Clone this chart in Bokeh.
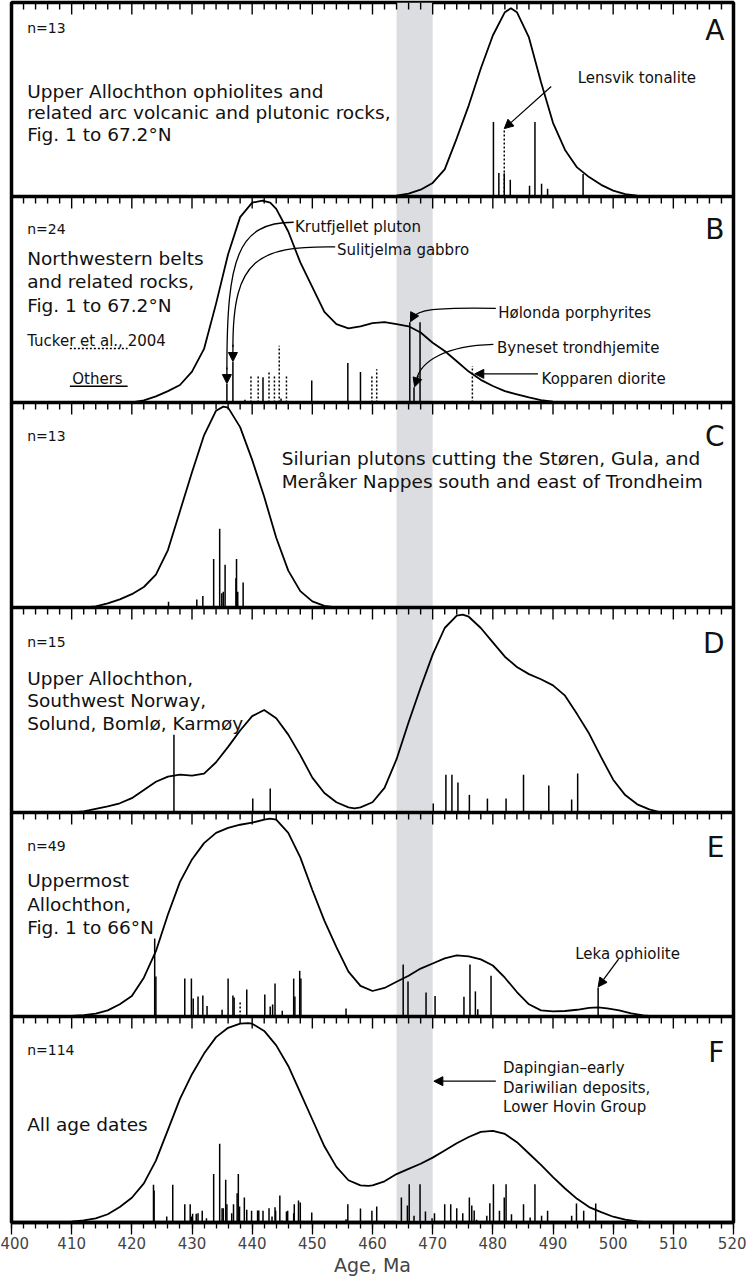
from bokeh.plotting import figure
from bokeh.models import (Range1d, SingleIntervalTicker, BoxAnnotation, Span,
                          Label, Arrow, NormalHead)
from bokeh.embed import file_html
from bokeh.resources import INLINE

FONT = "DejaVu Sans"
X_MIN, X_MAX = 400, 520
BAND_LEFT, BAND_RIGHT = 464, 470
MAJOR_TICKS = list(range(400, 521, 10))
MINOR_TICKS = [t for t in range(402, 520, 2) if t % 10 != 0]

# ---------------- Panel A ----------------
a_curve_x = [462, 464, 466, 468, 470, 472, 474, 476, 478, 480, 482, 483, 484, 486, 488, 490,
             492, 494, 496, 498, 500, 502, 504, 506]
a_curve_y = [0.0, 0.005, 0.015, 0.035, 0.07, 0.14, 0.30, 0.47, 0.66, 0.83, 0.95, 0.97, 0.95,
             0.82, 0.59, 0.38, 0.24, 0.15, 0.10, 0.06, 0.03, 0.012, 0.005, 0.0]
a_bar_x = [480.1, 481.0, 481.9, 482.9, 486.1, 487.0, 488.1, 489.1, 495.0]
a_bar_h = [0.384, 0.121, 0.12, 0.086, 0.056, 0.384, 0.066, 0.04, 0.116]
a_dash_x = [481.9]
a_dash_h = [0.348]

# ---------------- Panel B ----------------
b_curve_x = [420, 422, 424, 426, 428, 430, 432, 434, 436, 438, 440, 441.7, 443, 444, 446, 448,
             450, 452, 454, 456, 458, 460, 462, 464, 466, 468, 470, 472, 474, 476, 478, 480,
             482, 484, 486, 488, 490, 492]
b_curve_y = [0.0, 0.01, 0.03, 0.055, 0.085, 0.15, 0.26, 0.48, 0.72, 0.90, 0.97, 0.98, 0.97,
             0.94, 0.83, 0.68, 0.56, 0.44, 0.38, 0.36, 0.37, 0.385, 0.39, 0.38, 0.37, 0.34,
             0.29, 0.25, 0.20, 0.15, 0.11, 0.08, 0.055, 0.04, 0.025, 0.012, 0.004, 0.0]
b_bar_x = [435.8, 436.8, 438.8, 441.8, 444.8, 449.9, 455.9, 458.0, 466.2, 466.9, 467.9]
b_bar_h = [0.09, 0.197, 0.013, 0.123, 0.02, 0.107, 0.192, 0.148, 0.389, 0.074, 0.389]
b_dash_x = [439.8, 441.0, 442.8, 443.7, 444.5, 445.7, 459.9, 460.7, 476.6]
b_dash_h = [0.128, 0.131, 0.151, 0.128, 0.276, 0.128, 0.128, 0.161, 0.177]

# ---------------- Panel C ----------------
c_curve_x = [412, 414, 416, 418, 420, 422, 424, 426, 428, 430, 432, 434, 435.2, 436, 438, 440,
             442, 444, 446, 448, 450, 452, 454]
c_curve_y = [0.0, 0.005, 0.02, 0.04, 0.065, 0.10, 0.16, 0.28, 0.47, 0.66, 0.84, 0.96, 0.98,
             0.975, 0.88, 0.72, 0.54, 0.34, 0.18, 0.08, 0.03, 0.008, 0.0]
c_bar_x = [426.1, 430.8, 431.8, 433.6, 434.6, 434.95, 435.2, 435.5, 437.3, 437.4, 437.6, 438.5]
c_bar_h = [0.028, 0.039, 0.056, 0.236, 0.384, 0.069, 0.077, 0.208, 0.143, 0.236, 0.077, 0.122]

# ---------------- Panel D ----------------
d_curve_x = [410, 412, 414, 416, 418, 420, 422, 424, 426, 428, 430, 432, 434, 436, 438, 440,
             442, 444, 446, 448, 450, 452, 454, 456, 457, 458, 460, 462, 464, 466, 468, 470,
             472, 474, 475, 476, 478, 480, 482, 484, 486, 488, 490, 492, 494, 496, 498, 500,
             502, 504, 506, 508]
d_curve_y = [0.0, 0.005, 0.018, 0.03, 0.045, 0.07, 0.11, 0.15, 0.175, 0.185, 0.18, 0.19,
             0.245, 0.32, 0.40, 0.47, 0.50, 0.46, 0.38, 0.28, 0.17, 0.095, 0.05, 0.025, 0.02,
             0.025, 0.05, 0.12, 0.26, 0.44, 0.61, 0.77, 0.90, 0.96, 0.965, 0.955, 0.90, 0.83,
             0.76, 0.71, 0.675, 0.65, 0.62, 0.57, 0.48, 0.385, 0.27, 0.16, 0.085, 0.04, 0.015,
             0.0]
d_bar_x = [427.0, 440.1, 443.0, 470.1, 472.2, 473.2, 474.2, 476.1, 479.1, 482.2, 485.1,
           489.3, 493.1, 494.1]
d_bar_h = [0.379, 0.068, 0.117, 0.044, 0.184, 0.184, 0.146, 0.086, 0.068, 0.068, 0.184,
           0.132, 0.063, 0.19]

# ---------------- Panel E ----------------
e_curve_x = [406, 410, 412, 414, 416, 418, 420, 422, 424, 426, 428, 430, 432, 434, 436, 438,
             440, 442, 443, 444, 446, 448, 450, 452, 454, 456, 458, 460, 462, 464, 466, 468,
             470, 472, 474, 476, 478, 480, 482, 484, 486, 488, 490, 492, 494, 496, 497.5, 499,
             501, 503, 505, 507]
e_curve_y = [0.0, 0.003, 0.007, 0.014, 0.03, 0.06, 0.10, 0.19, 0.32, 0.50, 0.66, 0.77, 0.85,
             0.90, 0.925, 0.94, 0.95, 0.965, 0.97, 0.965, 0.90, 0.78, 0.62, 0.47, 0.34, 0.22,
             0.15, 0.125, 0.14, 0.17, 0.20, 0.235, 0.26, 0.285, 0.30, 0.295, 0.28, 0.25, 0.19,
             0.12, 0.06, 0.03, 0.025, 0.027, 0.033, 0.042, 0.045, 0.04, 0.03, 0.015, 0.005, 0.0]
e_bar_x = [423.8, 424.0, 428.8, 429.9, 430.2, 431.0, 431.8, 432.5, 435.0, 436.0, 436.8, 437.0,
           439.1, 442.1, 443.0, 443.4, 443.8, 445.0, 446.9, 447.1, 447.9, 448.1, 455.6, 465.1,
           465.9, 468.9, 470.4, 475.2, 476.2, 477.1, 477.5, 479.7, 497.5]
e_bar_h = [0.382, 0.196, 0.186, 0.186, 0.088, 0.098, 0.103, 0.052, 0.033, 0.186, 0.103, 0.093,
           0.132, 0.108, 0.049, 0.059, 0.162, 0.028, 0.186, 0.098, 0.224, 0.186, 0.039, 0.255,
           0.172, 0.118, 0.101, 0.097, 0.255, 0.123, 0.036, 0.2, 0.142]
e_dash_x = [438.0]
e_dash_h = [0.069]

# ---------------- Panel F ----------------
f_curve_x = [406, 410, 412, 414, 416, 418, 420, 422, 424, 426, 428, 430, 432, 434, 436, 438,
             439.3, 440, 442, 444, 446, 448, 450, 452, 454, 456, 458, 459.3, 460, 462, 464, 466,
             468, 470, 472, 474, 476, 478, 480, 482, 484, 486, 488, 490, 492, 494, 496, 498,
             500, 502, 504, 506]
f_curve_y = [0.0, 0.004, 0.01, 0.02, 0.04, 0.075, 0.12, 0.19, 0.30, 0.45, 0.60, 0.72, 0.82,
             0.90, 0.945, 0.965, 0.968, 0.965, 0.93, 0.86, 0.76, 0.63, 0.50, 0.37, 0.27, 0.205,
             0.18, 0.178, 0.18, 0.20, 0.235, 0.26, 0.285, 0.315, 0.35, 0.385, 0.415, 0.44,
             0.445, 0.43, 0.39, 0.335, 0.28, 0.22, 0.165, 0.115, 0.075, 0.05, 0.028, 0.014,
             0.005, 0.0]
f_bar_x = [423.6, 423.7, 425.8, 426.8, 428.8, 429.7, 429.9, 430.1, 430.7, 431.0, 431.7, 432.4,
           433.6, 434.6, 435.0, 435.2, 435.6, 435.8, 436.6, 436.9, 437.5, 437.7, 437.9, 438.7,
           439.1, 439.9, 440.9, 441.1, 441.8, 442.8, 443.3, 443.8, 443.9, 444.6, 445.0, 445.7,
           445.9, 446.9, 447.0, 447.7, 448.0, 449.9, 455.6, 455.9, 458.0, 459.9, 460.7, 464.8,
           465.8, 466.1, 466.9, 467.9, 468.8, 469.9, 470.3, 472.0, 473.0, 474.0, 475.0, 476.1,
           476.5, 476.9, 477.3, 479.0, 479.5, 480.1, 481.1, 481.9, 482.2, 483.1, 485.1, 486.2,
           487.0, 488.1, 489.1, 493.1, 493.9, 495.1, 497.1]
f_bar_h = [0.183, 0.155, 0.029, 0.183, 0.089, 0.089, 0.029, 0.042, 0.042, 0.045, 0.057, 0.021,
           0.236, 0.382, 0.069, 0.069, 0.207, 0.089, 0.045, 0.089, 0.142, 0.236, 0.078, 0.121,
           0.062, 0.057, 0.058, 0.058, 0.057, 0.069, 0.029, 0.074, 0.057, 0.131, 0.01, 0.053,
           0.057, 0.045, 0.089, 0.107, 0.097, 0.049, 0.016, 0.089, 0.068, 0.057, 0.078, 0.121,
           0.083, 0.186, 0.033, 0.186, 0.053, 0.021, 0.045, 0.089, 0.089, 0.069, 0.045, 0.121,
           0.083, 0.058, 0.013, 0.033, 0.094, 0.186, 0.057, 0.121, 0.186, 0.04, 0.089, 0.024,
           0.186, 0.033, 0.057, 0.033, 0.092, 0.057, 0.092]

panel_letters = ["A", "B", "C", "D", "E", "F"]
panel_counts = ["n=13", "n=24", "n=13", "n=15", "n=49", "n=114"]

# ---------------- layout of the stacked panels (pixel units on the y axis) ------------
PANEL_BASE = {"A": 1026, "B": 820, "C": 615, "D": 410, "E": 206, "F": 0}
PANEL_H = {"A": 194, "B": 206, "C": 205, "D": 205, "E": 204, "F": 206}
TOTAL_H = 1220


def Y(k, f):
    return PANEL_BASE[k] + f * PANEL_H[k]


p = figure(frame_width=722, frame_height=TOTAL_H,
           x_range=Range1d(X_MIN, X_MAX), y_range=Range1d(0, TOTAL_H),
           output_backend="svg", toolbar_location=None,
           x_axis_location="below", y_axis_location=None,
           min_border_left=11, min_border_right=13, min_border_top=2, min_border_bottom=0,
           background_fill_color="white", border_fill_color="white")
p.grid.visible = False
p.outline_line_color = "black"
p.outline_line_width = 3.5

p.add_layout(BoxAnnotation(left=BAND_LEFT, right=BAND_RIGHT, fill_color="#dcdde0",
                           fill_alpha=1.0, line_alpha=0, level="underlay"))

# panel separators
for k in ["A", "B", "C", "D", "E"]:
    p.add_layout(Span(location=PANEL_BASE[k], dimension="width", line_color="black",
                      line_width=3.5))

# inward tick marks along the top edge of every panel
tx0, ty0, ty1 = [], [], []
for k in panel_letters:
    top = PANEL_BASE[k] + PANEL_H[k]
    for t in MAJOR_TICKS:
        tx0.append(t); ty0.append(top); ty1.append(top - 12)
    for t in MINOR_TICKS:
        tx0.append(t); ty0.append(top); ty1.append(top - 7)
p.segment(x0=tx0, y0=ty0, x1=tx0, y1=ty1, line_color="black", line_width=1.4)

# bottom axis
ax = p.xaxis[0]
ax.ticker = SingleIntervalTicker(interval=10, num_minor_ticks=5)
ax.major_tick_in = 0
ax.major_tick_out = 12
ax.minor_tick_in = 0
ax.minor_tick_out = 6
ax.major_tick_line_width = 1.3
ax.minor_tick_line_width = 1.3
ax.axis_line_width = 3.5
ax.major_label_text_font = FONT
ax.major_label_text_font_size = "15px"
ax.major_label_standoff = 2
ax.axis_label = "Age, Ma"
ax.axis_label_text_font = FONT
ax.axis_label_text_font_size = "19px"
ax.axis_label_text_font_style = "normal"
ax.axis_label_standoff = 2


def draw(k, cx, cy, bx, bh, dx=None, dh=None):
    base = PANEL_BASE[k]
    p.line(cx, [Y(k, v) for v in cy], line_color="black", line_width=1.8)
    p.segment(x0=bx, y0=[base] * len(bx), x1=bx, y1=[Y(k, v) for v in bh],
              line_color="black", line_width=1.5)
    if dx:
        p.segment(x0=dx, y0=[base] * len(dx), x1=dx, y1=[Y(k, v) for v in dh],
                  line_color="black", line_width=1.5, line_dash="2 2")


def lab(k, x, f, text, size, align="left"):
    p.add_layout(Label(x=x, y=Y(k, f), text=text, text_font=FONT, text_font_size=size,
                       text_align=align, text_baseline="alphabetic", text_color="#111111"))


def arrow(k, x0, f0, x1, f1):
    p.add_layout(Arrow(end=NormalHead(size=9, fill_color="black", line_color="black"),
                       x_start=x0, y_start=Y(k, f0), x_end=x1, y_end=Y(k, f1),
                       line_color="black", line_width=1.3))


DESC = "18.5px"
SMALL = "15px"
LETTER_Y = [0.854, 0.842, 0.833, 0.826, 0.828, 0.825]
COUNT_Y = [0.87, 0.842, 0.837, 0.834, 0.838, 0.835]
for i, k in enumerate(panel_letters):
    lab(k, 402.6, COUNT_Y[i], panel_counts[i], "14px")
    lab(k, 518.5, LETTER_Y[i], k, "28px", "right")

# ---- A
draw("A", a_curve_x, a_curve_y, a_bar_x, a_bar_h, a_dash_x, a_dash_h)
lab("A", 402.6, 0.542, "Upper Allochthon ophiolites and", DESC)
lab("A", 402.6, 0.432, "related arc volcanic and plutonic rocks,", DESC)
lab("A", 402.6, 0.319, "Fig. 1 to 67.2°N", DESC)
lab("A", 494.1, 0.61, "Lensvik tonalite", SMALL)
arrow("A", 489.7, 0.567, 481.9, 0.35)

# ---- B
draw("B", b_curve_x, b_curve_y, b_bar_x, b_bar_h, b_dash_x, b_dash_h)
lab("B", 402.6, 0.698, "Northwestern belts", DESC)
lab("B", 402.6, 0.585, "and related rocks,", DESC)
lab("B", 402.6, 0.472, "Fig. 1 to 67.2°N", DESC)
lab("B", 402.6, 0.299, "Tucker et al., 2004", SMALL)
lab("B", 410.1, 0.112, "Others", SMALL)
p.line([409.7, 419.3], [Y("B", 0.262)] * 2, line_color="black", line_width=1.5,
       line_dash="2 2")
p.line([409.7, 419.3], [Y("B", 0.079)] * 2, line_color="black", line_width=1.5)
lab("B", 447.1, 0.854, "Krutfjellet pluton", SMALL)
lab("B", 454.1, 0.739, "Sulitjelma gabbro", SMALL)
lab("B", 480.9, 0.435, "Hølonda porphyrites", SMALL)
lab("B", 480.7, 0.263, "Byneset trondhjemite", SMALL)
lab("B", 488.1, 0.115, "Kopparen diorite", SMALL)
p.bezier(x0=[446.9, 453.8, 480.5, 480.1],
         y0=[Y("B", v) for v in [0.875, 0.755, 0.457, 0.282]],
         x1=[435.8, 436.8, 466.6, 467.3],
         y1=[Y("B", v) for v in [0.16, 0.27, 0.41, 0.11]],
         cx0=[437.5, 441.0, 470.0, 472.0],
         cy0=[Y("B", v) for v in [0.875, 0.76, 0.462, 0.275]],
         cx1=[435.8, 436.8, 467.5, 468.0],
         cy1=[Y("B", v) for v in [0.70, 0.70, 0.45, 0.20]],
         line_color="black", line_width=1.3)
arrow("B", 435.8, 0.17, 435.8, 0.092)
arrow("B", 436.8, 0.28, 436.8, 0.199)
arrow("B", 467.0, 0.43, 466.3, 0.392)
arrow("B", 467.6, 0.13, 467.0, 0.076)
arrow("B", 487.5, 0.139, 477.0, 0.139)

# ---- C
draw("C", c_curve_x, c_curve_y, c_bar_x, c_bar_h)
lab("C", 444.9, 0.726, "Silurian plutons cutting the Støren, Gula, and", DESC)
lab("C", 444.9, 0.616, "Meråker Nappes south and east of Trondheim", DESC)

# ---- D
draw("D", d_curve_x, d_curve_y, d_bar_x, d_bar_h)
lab("D", 402.6, 0.654, "Upper Allochthon,", DESC)
lab("D", 402.6, 0.545, "Southwest Norway,", DESC)
lab("D", 402.6, 0.436, "Solund, Bomlø, Karmøy", DESC)

# ---- E
draw("E", e_curve_x, e_curve_y, e_bar_x, e_bar_h, e_dash_x, e_dash_h)
lab("E", 402.6, 0.665, "Uppermost", DESC)
lab("E", 402.6, 0.551, "Allochthon,", DESC)
lab("E", 402.6, 0.436, "Fig. 1 to 66°N", DESC)
lab("E", 493.7, 0.305, "Leka ophiolite", SMALL)
arrow("E", 500.9, 0.281, 497.5, 0.145)

# ---- F
draw("F", f_curve_x, f_curve_y, f_bar_x, f_bar_h)
lab("F", 402.6, 0.477, "All age dates", DESC)
lab("F", 481.7, 0.752, "Dapingian–early", SMALL)
lab("F", 481.7, 0.655, "Dariwilian deposits,", SMALL)
lab("F", 481.7, 0.563, "Lower Hovin Group", SMALL)
arrow("F", 480.5, 0.686, 470.2, 0.686)

open("out.html", "w").write(file_html(p, INLINE))
